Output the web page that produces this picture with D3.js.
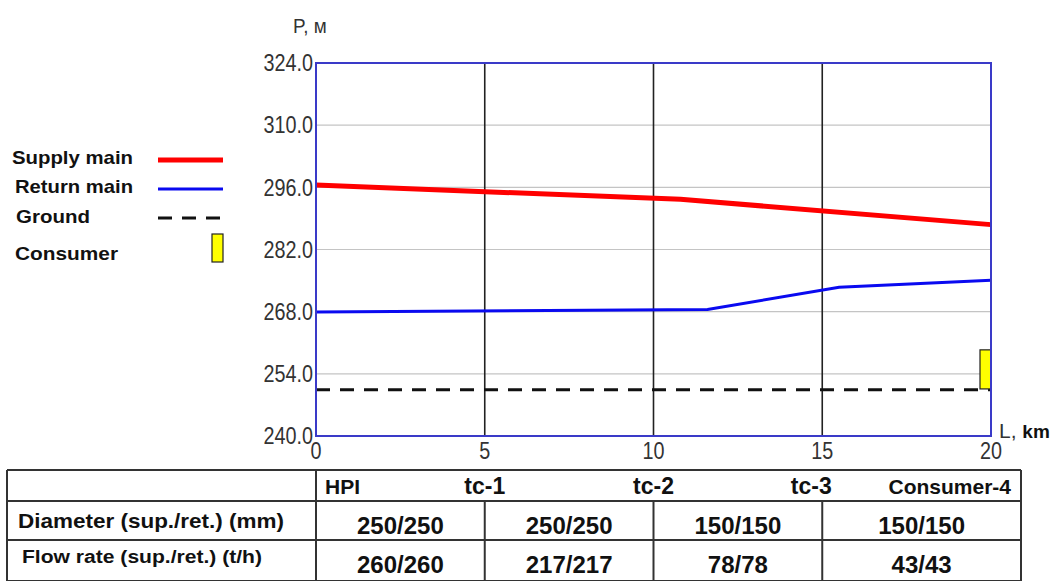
<!DOCTYPE html>
<html>
<head>
<meta charset="utf-8">
<script src="https://cdn.jsdelivr.net/npm/d3@7"></script>
<style>
  body { margin: 0; background: #fff; }
  svg { display: block; }
  .tick-lbl { font-family: "Liberation Sans", Arial, sans-serif; fill: #333; }
  .bold { font-family: "Liberation Sans", Arial, sans-serif; font-weight: bold; fill: #111; }
</style>
</head>
<body>
<div class="canvas"></div>
<script>
// chart data
const kmTicks = [0, 5, 10, 15, 20];
const pTicks = [240, 254, 268, 282, 296, 310, 324];
const supplyKm = [0, 10.8, 20];
const supplyP = [296.5, 293.3, 287.6];
const returnKm = [0, 11.6, 15.5, 20];
const returnP = [267.9, 268.5, 273.5, 275.1];
const groundKm = [0, 20];
const groundP = [250.4, 250.4];
const consumerKm = [20];
const consumerP = [[250.6, 259.4]];
const nodeNames = ["HPI", "tc-1", "tc-2", "tc-3", "Consumer-4"];
const nodeKm = [0, 5, 10, 15, 20];
const diameters = ["250/250", "250/250", "150/150", "150/150"];
const flows = ["260/260", "217/217", "78/78", "43/43"];

const w = 1054, h = 581;
const svg = d3.select(".canvas").append("svg").attr("width", w).attr("height", h);

// plot area
const margin = { top: 63, left: 316, right: 63, bottom: 145 };
const x = d3.scaleLinear().domain([0, 20]).range([margin.left, w - margin.right]);
const y = d3.scaleLinear().domain([240, 324]).range([h - margin.bottom, margin.top]);

// horizontal grid
svg.append("g").selectAll("line").data(pTicks.slice(1, -1)).enter().append("line")
  .attr("x1", x(0)).attr("x2", x(20))
  .attr("y1", d => y(d)).attr("y2", d => y(d))
  .attr("stroke", "#c4c4c4").attr("stroke-width", 1.2);

// vertical node lines
svg.append("g").selectAll("line").data(kmTicks.slice(1, -1)).enter().append("line")
  .attr("x1", d => x(d)).attr("x2", d => x(d))
  .attr("y1", y(324)).attr("y2", y(240))
  .attr("stroke", "#222").attr("stroke-width", 1.6);

// y labels (condensed look)
svg.append("g").selectAll("text").data(pTicks).enter().append("text")
  .attr("class", "tick-lbl")
  .attr("transform", d => `translate(${x(0) - 3},${y(d)}) scale(0.86,1)`)
  .attr("dy", "0.36em")
  .attr("text-anchor", "end").attr("font-size", 23)
  .text(d => d.toFixed(1));

// x labels
svg.append("g").selectAll("text").data(kmTicks).enter().append("text")
  .attr("class", "tick-lbl")
  .attr("transform", d => `translate(${x(d)},${y(240) + 23}) scale(0.86,1)`)
  .attr("text-anchor", "middle").attr("font-size", 23)
  .text(d => d);

// axis titles
svg.append("text").attr("class", "tick-lbl")
  .attr("transform", "translate(293,33) scale(0.9,1)")
  .attr("font-size", 21).text("P, м");
const lt = svg.append("text").attr("x", 999).attr("y", 438).attr("font-size", 21);
lt.append("tspan").attr("class", "tick-lbl").text("L, ");
lt.append("tspan").attr("class", "bold").attr("font-size", 19).text("km");

// lines
const line = d3.line().x(d => x(d[0])).y(d => y(d[1]));
svg.append("path").datum(d3.zip(groundKm, groundP)).attr("d", line)
  .attr("fill", "none").attr("stroke", "#111").attr("stroke-width", 3)
  .attr("stroke-dasharray", "14,10");
svg.append("path").datum(d3.zip(returnKm, returnP)).attr("d", line)
  .attr("fill", "none").attr("stroke", "#0a0af0").attr("stroke-width", 3);
svg.append("path").datum(d3.zip(supplyKm, supplyP)).attr("d", line)
  .attr("fill", "none").attr("stroke", "#ff0000").attr("stroke-width", 5);

// consumer bar
svg.append("g").selectAll("rect").data(d3.zip(consumerKm, consumerP)).enter().append("rect")
  .attr("x", d => x(d[0]) - 11).attr("width", 11)
  .attr("y", d => y(d[1][1])).attr("height", d => y(d[1][0]) - y(d[1][1]))
  .attr("fill", "#ffff00").attr("stroke", "#222").attr("stroke-width", 1.2);

// plot frame
svg.append("rect").attr("x", x(0)).attr("y", y(324))
  .attr("width", x(20) - x(0)).attr("height", y(240) - y(324))
  .attr("fill", "none").attr("stroke", "#3a3ac8").attr("stroke-width", 2);

// legend
const legend = [
  { name: "Supply main", x: 12, y: 164, len: 121, type: "supply" },
  { name: "Return main", x: 15, y: 193, len: 118, type: "return" },
  { name: "Ground", x: 16, y: 223, len: 74, type: "ground" },
  { name: "Consumer", x: 15, y: 260, len: 103, type: "consumer" }
];
const lg = svg.append("g");
legend.forEach(l => {
  lg.append("text").attr("class", "bold").attr("x", l.x).attr("y", l.y)
    .attr("font-size", 19).attr("textLength", l.len).attr("lengthAdjust", "spacingAndGlyphs")
    .text(l.name);
  if (l.type === "supply") {
    lg.append("line").attr("x1", 158).attr("x2", 223).attr("y1", 160).attr("y2", 160)
      .attr("stroke", "#ff0000").attr("stroke-width", 5);
  } else if (l.type === "return") {
    lg.append("line").attr("x1", 158).attr("x2", 223).attr("y1", 189).attr("y2", 189)
      .attr("stroke", "#0a0af0").attr("stroke-width", 3);
  } else if (l.type === "ground") {
    lg.append("line").attr("x1", 158).attr("x2", 223).attr("y1", 218).attr("y2", 218)
      .attr("stroke", "#111").attr("stroke-width", 3).attr("stroke-dasharray", "14,10");
  } else {
    lg.append("rect").attr("x", 212).attr("y", 234).attr("width", 11).attr("height", 28)
      .attr("fill", "#ffff00").attr("stroke", "#222").attr("stroke-width", 1.2);
  }
});

// table
const tLeft = 7, tRight = 1021, rowY = [470, 501, 540, 581];
const tb = svg.append("g").attr("stroke", "#333").attr("stroke-width", 2);
tb.selectAll("line.h").data(rowY).enter().append("line")
  .attr("x1", tLeft).attr("x2", tRight).attr("y1", d => d).attr("y2", d => d);
tb.append("line").attr("x1", tLeft).attr("x2", tLeft).attr("y1", rowY[0]).attr("y2", h);
tb.append("line").attr("x1", tRight).attr("x2", tRight).attr("y1", rowY[0]).attr("y2", h);
tb.append("line").attr("x1", x(0)).attr("x2", x(0)).attr("y1", rowY[0]).attr("y2", h);
tb.selectAll("line.v").data(nodeKm.slice(1, -1)).enter().append("line")
  .attr("x1", d => x(d)).attr("x2", d => x(d)).attr("y1", rowY[1]).attr("y2", h);

// header row
const last = nodeNames.length - 1;
svg.append("g").selectAll("text").data(nodeNames).enter().append("text")
  .attr("class", "bold").attr("y", 494)
  .attr("x", (d, i) => i === 0 ? x(0) + 9 : i === last ? tRight - 10 : x(nodeKm[i]) - (i === 3 ? 11 : 0))
  .attr("text-anchor", (d, i) => i === 0 ? "start" : i === last ? "end" : "middle")
  .attr("font-size", (d, i) => i === 0 ? 21 : i === last ? 21 : 23)
  .text(d => d);

svg.append("text").attr("class", "bold").attr("x", 18).attr("y", 528)
  .attr("font-size", 21).attr("textLength", 266).attr("lengthAdjust", "spacingAndGlyphs")
  .text("Diameter (sup./ret.) (mm)");
svg.append("text").attr("class", "bold").attr("x", 22).attr("y", 563)
  .attr("font-size", 18).attr("textLength", 240).attr("lengthAdjust", "spacingAndGlyphs")
  .text("Flow rate (sup./ret.) (t/h)");

const segMid = i => (x(nodeKm[i]) + (i === 3 ? tRight : x(nodeKm[i + 1]))) / 2;
svg.append("g").selectAll("text").data(diameters).enter().append("text")
  .attr("class", "bold").attr("font-size", 24).attr("text-anchor", "middle")
  .attr("x", (d, i) => segMid(i)).attr("y", 534).text(d => d);
svg.append("g").selectAll("text").data(flows).enter().append("text")
  .attr("class", "bold").attr("font-size", 24).attr("text-anchor", "middle")
  .attr("x", (d, i) => segMid(i)).attr("y", 573).text(d => d);
</script>
</body>
</html>
